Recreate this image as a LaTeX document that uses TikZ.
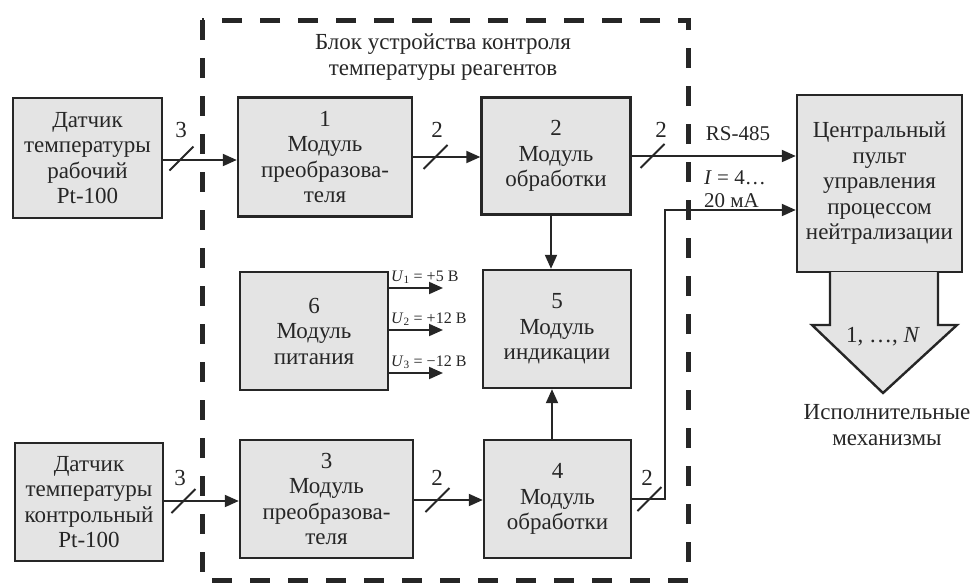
\documentclass[tikz,border=0pt]{standalone}
\usepackage{fontspec}
\setmainfont{Liberation Serif}
\usetikzlibrary{arrows.meta}
\definecolor{boxgray}{HTML}{E4E4E4}
\definecolor{ink}{HTML}{262626}
\newcommand{\busmark}[3]{%
  \draw[bus] (#1) ++(-12,12) -- ++(24,-24);
  \node[lbl] at (#2) {#3};}

\begin{document}
\begin{tikzpicture}[x=1pt,y=-1pt,color=ink,
  blk/.style={draw,line width=2.4pt,fill=boxgray,align=center,inner sep=0pt,
    font=\fontsize{23}{25.5}\selectfont},
  sig/.style={line width=2pt,-{Triangle[length=14pt,width=12pt]}},
  bus/.style={line width=1.8pt},
  lbl/.style={inner sep=1pt,font=\fontsize{23}{25.5}\selectfont},
  small/.style={inner sep=1pt,font=\fontsize{16}{18}\selectfont}]
  \useasboundingbox (0,0) rectangle (970,584);

  % outer block
  \draw[line width=5pt,dash pattern=on 20pt off 18pt] (202,20) rectangle (688,580);
  \node[lbl,align=center] (title) at (443,57) {Блок устройства контроля\\температуры реагентов};

  % sensors
  \node[blk,minimum width=149,minimum height=120] (dt1) at (87.5,158) {Датчик\\температуры\\рабочий\\Pt-100};
  \node[blk,minimum width=148,minimum height=118] (dt2) at (89,502) {Датчик\\температуры\\контрольный\\Pt-100};

  % modules
  \node[blk,minimum width=174,minimum height=119] (m1) at (325,157) {1\\Модуль\\преобразова-\\теля};
  \node[blk,minimum width=149,minimum height=117] (m2) at (556,156) {2\\Модуль\\обработки};
  \node[blk,minimum width=148,minimum height=118] (m6) at (314,331) {6\\Модуль\\питания};
  \node[blk,minimum width=148,minimum height=118] (m5) at (557,329) {5\\Модуль\\индикации};
  \node[blk,minimum width=173,minimum height=118] (m3) at (326.5,499) {3\\Модуль\\преобразова-\\теля};
  \node[blk,minimum width=147,minimum height=118] (m4) at (557.5,499) {4\\Модуль\\обработки};

  % central panel
  \node[blk,minimum width=165,minimum height=177] (cp) at (879.5,183.5) {Центральный\\пульт\\управления\\процессом\\нейтрализации};
  \draw[line width=2.4pt,fill=boxgray] (830,272) -- (830,325) -- (812,325) -- (883,393)
    -- (957,325) -- (938,325) -- (938,272);
  \node[lbl] (nn) at (883,337) {1, …, \textit{N}};
  \node[lbl,align=center] (act) at (887,425) {Исполнительные\\механизмы};

  % signals
  \draw[sig] (dt1.east |- 0,160) -- (m1.west |- 0,160);
  \draw[sig] (m1.east) -- (m2.west |- m1.east);
  \draw[sig] (m2.east) -- (cp.west |- m2.east);
  \draw[sig] (m2.south -| 551,0) -- (m5.north -| 551,0);
  \draw[sig] (m4.north -| 552,0) -- (m5.south -| 552,0);
  \draw[sig] (dt2.east |- 0,501) -- (m3.west |- 0,501);
  \draw[sig] (m3.east |- 0,500) -- (m4.west |- 0,500);
  \coordinate (bend) at (665,210);
  \draw[sig] (m4.east) -| (bend) -- (cp.west |- bend);

  \node[lbl,font=\fontsize{21}{23}\selectfont] (rs) at (738,134) {RS-485};
  \node[lbl,font=\fontsize{21}{23}\selectfont,align=left] (cur) at (735,189) {\textit{I} = 4…\\20 мА};

  % power outputs
  \coordinate (u1) at (443,288);
  \coordinate (u2) at (443,330);
  \coordinate (u3) at (443,373);
  \foreach \u/\t in {u1/{+5 В},u2/{+12 В},u3/{−12 В}}{
    \draw[sig] (m6.east |- \u) -- (\u);
  }
  \node[small,anchor=south west] at ([xshift=-53pt,yshift=3pt]u1) {\textit{U}\textsubscript{1} = +5 В};
  \node[small,anchor=south west] at ([xshift=-53pt,yshift=3pt]u2) {\textit{U}\textsubscript{2} = +12 В};
  \node[small,anchor=south west] at ([xshift=-53pt,yshift=3pt]u3) {\textit{U}\textsubscript{3} = −12 В};

  % bus widths
  \busmark{181.5,158.5}{181,130}{3}
  \busmark{435.5,157}{437,130}{2}
  \busmark{652.5,156}{661,130}{2}
  \busmark{183.5,501}{180,478}{3}
  \busmark{437.5,500}{437,478}{2}
  \busmark{649.5,499}{647,478}{2}
\end{tikzpicture}
\end{document}
